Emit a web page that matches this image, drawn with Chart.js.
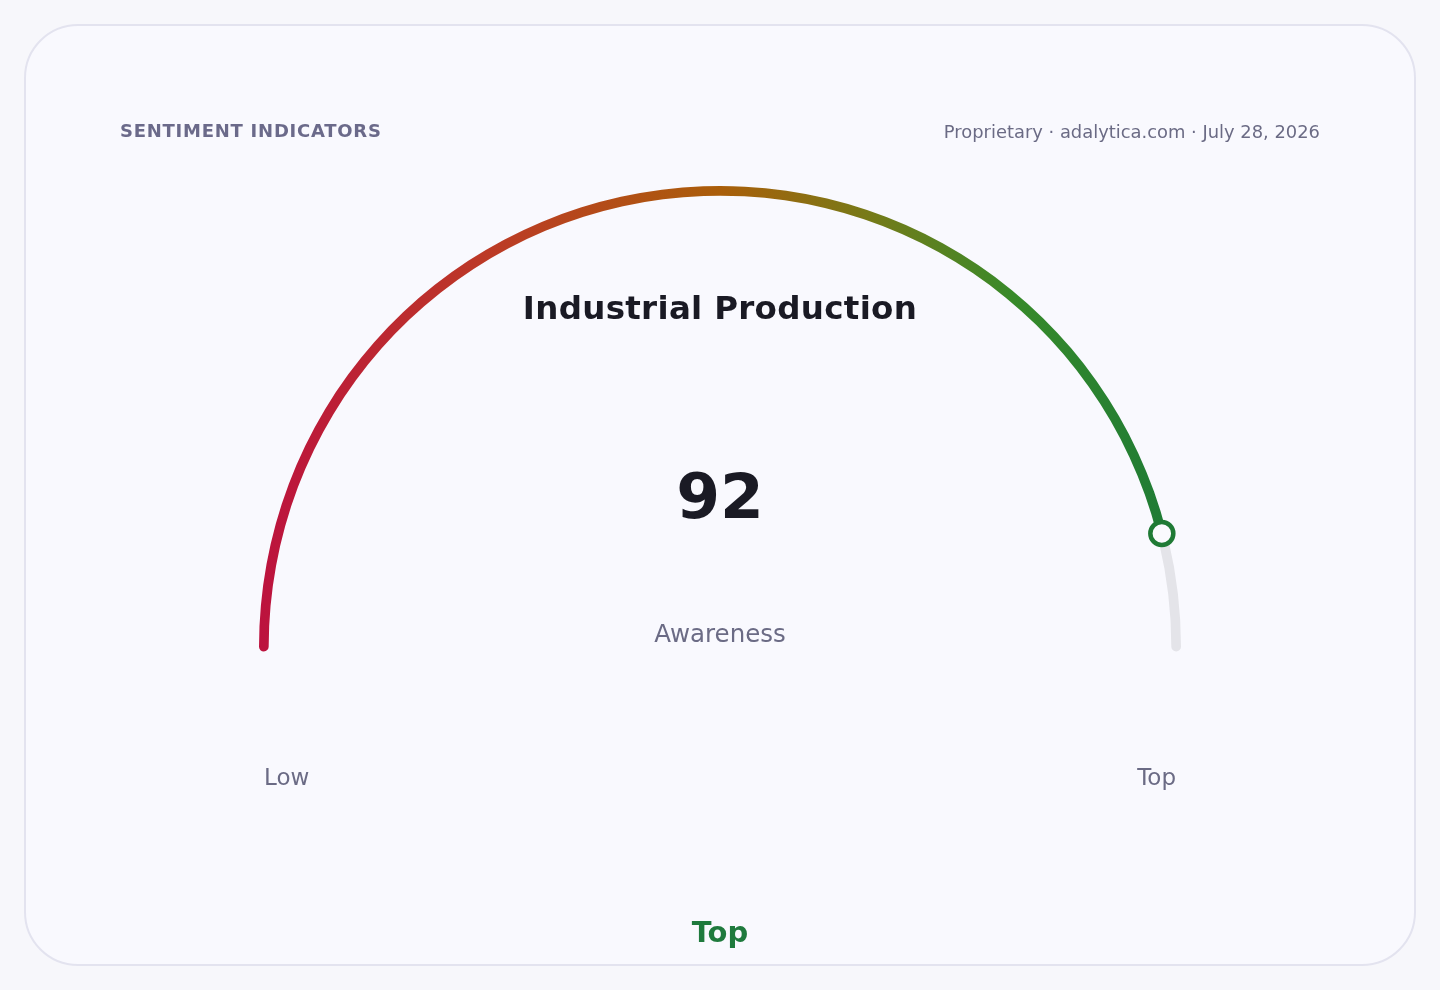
<!DOCTYPE html>
<html>
<head>
<meta charset="utf-8">
<script src="https://cdn.jsdelivr.net/npm/chart.js@4.4.1/dist/chart.umd.min.js"></script>
<style>
  html, body { margin: 0; padding: 0; background: #f7f7fb; }
  body { width: 1440px; height: 990px; position: relative; overflow: hidden;
         font-family: "DejaVu Sans", sans-serif; }
  .card { position: absolute; left: 24px; top: 24px; width: 1388px; height: 938px;
          border: 2px solid #e3e3ef; border-radius: 54px; background: #f9f9fe; }
  canvas#gauge { position: absolute; left: 0; top: 0; }
  .txt { position: absolute; white-space: nowrap; transform: translateY(-50%); }
  .kicker { left: 120px; top: 130px; font-size: 18px; font-weight: bold;
            letter-spacing: 0.75px; color: #6b6a8a; }
  .meta { right: 120px; top: 131px; font-size: 17.9px; color: #6b6b85; }
  .title { left: 0; width: 1440px; text-align: center; top: 308px;
           font-size: 32.5px; font-weight: bold; color: #1a1a24; letter-spacing: 0.3px; }
  .value { left: 0; width: 1440px; text-align: center; top: 496px;
           font-size: 63px; font-weight: bold; color: #1a1a24; }
  .unit { left: 0; width: 1440px; text-align: center; top: 633px;
          font-size: 24.5px; color: #6b6b85; }
  .low { left: 264px; top: 777px; font-size: 23px; color: #6b6b85; }
  .high { right: 264px; top: 777px; font-size: 23px; color: #6b6b85; }
  .band { left: 0; width: 1440px; text-align: center; top: 932px;
          font-size: 29px; font-weight: bold; color: #1f7a3d; }
</style>
</head>
<body>
<div class="card"></div>
<canvas id="gauge" width="1440" height="990"></canvas>
<div class="txt kicker">SENTIMENT INDICATORS</div>
<div class="txt meta">Proprietary · adalytica.com · July 28, 2026</div>
<div class="txt title" id="title"></div>
<div class="txt value" id="value"></div>
<div class="txt unit" id="unit"></div>
<div class="txt low" id="low"></div>
<div class="txt high" id="high"></div>
<div class="txt band" id="band"></div>
<script>
// Données de la jauge
const indicators  = ['Industrial Production'];
const measures    = ['Awareness'];
const readings    = [92];
const scaleBounds = [0, 100];
const endLabels   = ['Low', 'Top'];
const bandNames   = ['Top'];

const GAUGE_R = 461;
const CAP_DEG = 0.57;   // petit débord pour imiter un bout arrondi

document.getElementById('title').textContent = indicators[0];
document.getElementById('value').textContent = readings[0];
document.getElementById('unit').textContent  = measures[0];
document.getElementById('low').textContent   = endLabels[0];
document.getElementById('high').textContent  = endLabels[1];
document.getElementById('band').textContent  = bandNames[0];

// Dégradé rouge -> ambre -> vert sur la largeur de l'arc (arc 0), piste grise (arc 1)
function arcColor(ctx) {
  if (ctx.dataIndex === 1) return '#e4e4e9';
  const { chart } = ctx;
  const area = chart.chartArea;
  if (!area) return '#be123c';
  const cx = (area.left + area.right) / 2;
  const g = chart.ctx.createLinearGradient(cx - GAUGE_R, 0, cx + GAUGE_R, 0);
  g.addColorStop(0,    '#bc123e');
  g.addColorStop(0.25, '#bc3a26');
  g.addColorStop(0.5,  '#aa5e0a');
  g.addColorStop(0.66, '#777a18');
  g.addColorStop(0.82, '#378a2a');
  g.addColorStop(1,    '#1d7a36');
  return g;
}

// Marqueur à la position de la valeur sur le demi-cercle
const markerPlugin = {
  id: 'marker',
  afterDatasetsDraw(chart) {
    const arc = chart.getDatasetMeta(0).data[0];
    if (!arc) return;
    const { x, y, outerRadius, innerRadius } = arc.getProps(
      ['x', 'y', 'outerRadius', 'innerRadius'], true);
    const frac = (readings[0] - scaleBounds[0]) / (scaleBounds[1] - scaleBounds[0]);
    const ang = -Math.PI + frac * Math.PI;
    const r = (outerRadius + innerRadius) / 2;
    const mx = x + Math.cos(ang) * r;
    const my = y + Math.sin(ang) * r;
    const c = chart.ctx;
    c.save();
    c.beginPath();
    c.arc(mx, my, 11.5, 0, Math.PI * 2);
    c.fillStyle = '#fafafe';
    c.fill();
    c.lineWidth = 4.5;
    c.strokeStyle = '#1f7a35';
    c.stroke();
    c.restore();
  },
};

const value = readings[0] - scaleBounds[0];
const rest  = scaleBounds[1] - readings[0];

new Chart(document.getElementById('gauge'), {
  type: 'doughnut',
  data: {
    labels: ['value', 'rest'],
    datasets: [{
      data: [value, rest],
      backgroundColor: arcColor,
      borderWidth: 0,
      borderRadius: 5,
    }],
  },
  options: {
    responsive: false,
    animation: false,
    rotation: -90 - CAP_DEG,
    circumference: 180 + 2 * CAP_DEG,
    radius: GAUGE_R,
    cutout: '97.9%',
    layout: { padding: { top: 0, bottom: 152.4, left: 0, right: 0 } },
    plugins: {
      legend:  { display: false },
      tooltip: { enabled: false },
    },
  },
  plugins: [markerPlugin],
});
</script>
</body>
</html>
